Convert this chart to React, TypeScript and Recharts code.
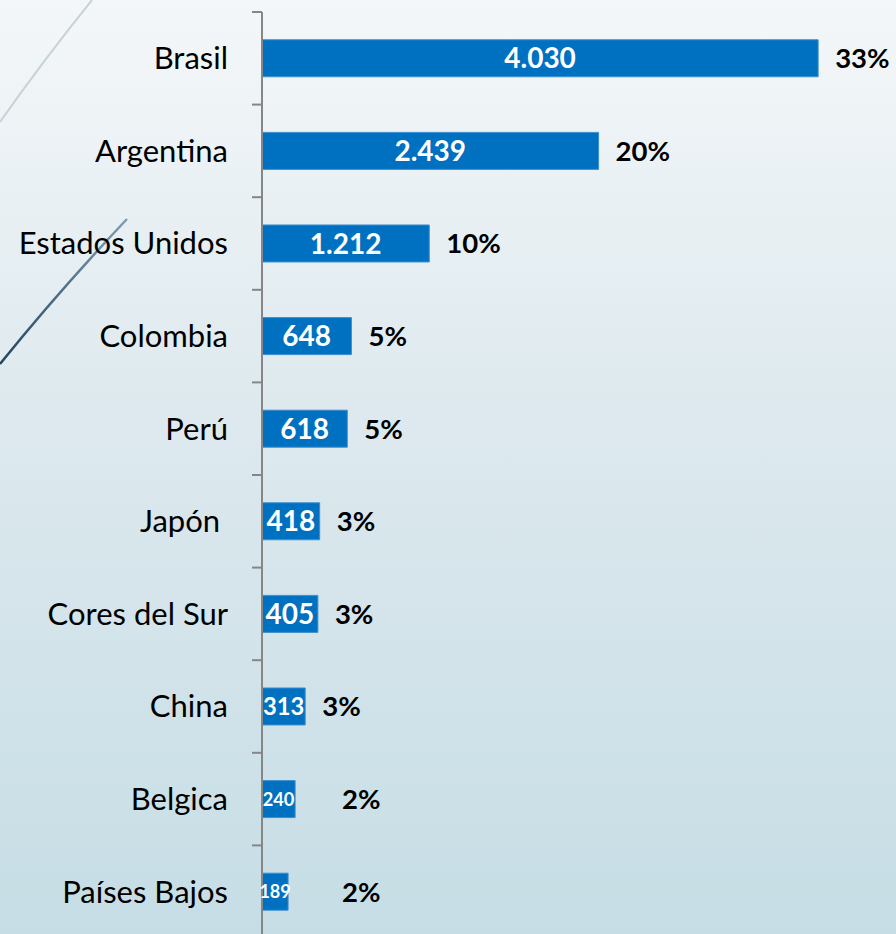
import React from "react";
import { Bar, BarChart, LabelList, XAxis, YAxis } from "recharts";

// visitantes por país de origen
const countries = [
	"Brasil",
	"Argentina",
	"Estados Unidos",
	"Colombia",
	"Perú",
	"Japón ",
	"Cores del Sur",
	"China",
	"Belgica",
	"Países Bajos",
];
const visitors = [4030, 2439, 1212, 648, 618, 418, 405, 313, 240, 189];
const shares = [33, 20, 10, 5, 5, 3, 3, 3, 2, 2];

const data = countries.map((name, i) => ({
	name,
	value: visitors[i],
	share: shares[i],
}));

const W = 896;
const H = 940;
const TOP = 12;
const BOTTOM = 2;
const AXIS_X = 262;
const BAND = (H - TOP - BOTTOM) / countries.length;

const fmt = (v: number) => String(v).replace(/\B(?=(\d{3})+(?!\d))/g, ".");

function CountryTick({ y, payload }: any) {
	return (
		<g>
			<line
				x1={AXIS_X - 10}
				x2={AXIS_X}
				y1={y - BAND / 2}
				y2={y - BAND / 2}
				stroke="#868686"
				strokeWidth={2}
			/>
			<text
				x={228}
				y={y}
				dy="0.35em"
				textAnchor="end"
				fontSize={31}
				fill="#000"
				style={{ whiteSpace: "pre" }}
			>
				{payload.value}
			</text>
		</g>
	);
}

function ValueLabel({ x, y, width, height, value }: any) {
	const fs = Math.min(28, Math.max(18, width * 0.55));
	return (
		<text
			x={x + width / 2}
			y={y + height / 2}
			dy="0.36em"
			textAnchor="middle"
			fill="#fff"
			fontWeight={700}
			fontSize={fs}
		>
			{fmt(value)}
		</text>
	);
}

function ShareLabel({ x, y, width, height, value }: any) {
	// small bars: label pushed out past the overflowing value
	const lx = width < 40 ? x + 80 : x + width + 17;
	return (
		<text
			x={lx}
			y={y + height / 2}
			dy="0.36em"
			fill="#000"
			fontWeight={700}
			fontSize={27.5}
		>
			{value}%
		</text>
	);
}

export default function App() {
	return (
		<div
			style={{
				position: "absolute",
				left: 0,
				top: 0,
				width: W,
				height: 934,
				overflow: "hidden",
				fontFamily: "Lato, sans-serif",
				background: "linear-gradient(180deg, #f4f7f9 0%, #dde9ee 45%, #c6dde5 100%)",
			}}
		>
			<svg
				width={W}
				height={934}
				style={{ position: "absolute", left: 0, top: 0 }}
			>
				<defs>
					<linearGradient id="swoosh" x1="1" y1="0" x2="0" y2="1">
						<stop offset="0%" stopColor="#7f9cb2" />
						<stop offset="100%" stopColor="#23455f" />
					</linearGradient>
				</defs>
				<path d="M 92 0 Q 42 62 0 122" stroke="#c9d2d8" strokeWidth={2} fill="none" />
				<path d="M 127 219 Q 58 292 0 364" stroke="url(#swoosh)" strokeWidth={2.5} fill="none" />
			</svg>
			<div style={{ position: "absolute", left: 0, top: 0 }}>
				<BarChart
					width={W}
					height={H}
					data={data}
					layout="vertical"
					margin={{ top: TOP, right: 13, bottom: BOTTOM, left: 0 }}
					barCategoryGap="30%"
				>
					<XAxis type="number" domain={[0, 4500]} hide />
					<YAxis
						type="category"
						dataKey="name"
						width={AXIS_X}
						axisLine={{ stroke: "#868686", strokeWidth: 2 }}
						tickLine={false}
						interval={0}
						tick={<CountryTick />}
					/>
					<Bar
						dataKey="value"
						fill="#0070C0"
						stroke="#3d8fd0"
						strokeWidth={1}
						isAnimationActive={false}
					>
						<LabelList dataKey="value" content={<ValueLabel />} />
						<LabelList dataKey="share" content={<ShareLabel />} />
					</Bar>
				</BarChart>
			</div>
		</div>
	);
}
